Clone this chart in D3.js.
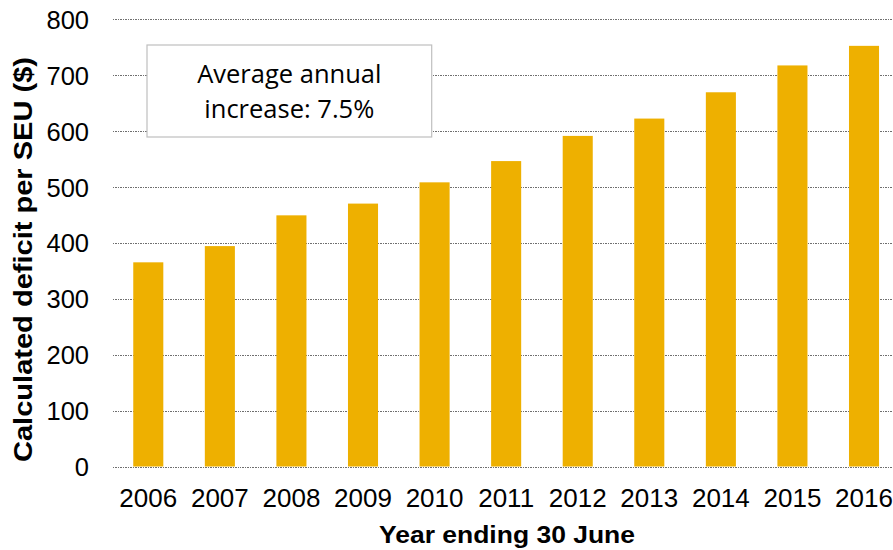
<!DOCTYPE html>
<html>
<head>
<meta charset="utf-8">
<script src="https://cdn.jsdelivr.net/npm/d3@7"></script>
<style>
  body { margin: 0; background: #fff; }
  svg { display: block; font-family: "Liberation Sans", Arial, sans-serif; }
</style>
</head>
<body>
<div id="output"></div>
<script>
var years = ['2006', '2007', '2008', '2009', '2010', '2011', '2012', '2013', '2014', '2015', '2016'];
var deficit = [365, 394, 449, 470, 508, 546, 591, 622, 669, 717, 752];
var yTicks = [0, 100, 200, 300, 400, 500, 600, 700, 800];
var noteLines = ['Average annual', 'increase: 7.5%'];

var w = 893;
var h = 550;
var plotLeft = 112.5, plotRight = 899.8, plotTop = 19, plotBottom = 466.5;

var svg = d3.select('#output').append('svg')
            .attr('width', w)
            .attr('height', h);

var x = d3.scaleBand()
          .domain(years)
          .range([plotLeft, plotRight])
          .paddingInner(0.58)
          .paddingOuter(0.29);

var y = d3.scaleLinear()
          .domain([0, 800])
          .range([plotBottom, plotTop]);

// dotted gridlines
var grid = svg.append('g')
  .attr('transform', 'translate(' + plotLeft + ',0)')
  .call(d3.axisLeft(y).tickValues(yTicks).tickSize(-(plotRight - plotLeft)).tickFormat(''));
grid.select('.domain').remove();
grid.selectAll('line')
  .attr('stroke', '#6f6f6f')
  .attr('stroke-width', 1)
  .attr('stroke-dasharray', '1.5,1')
  .attr('shape-rendering', 'crispEdges');

// y tick labels
var yAxis = svg.append('g')
  .attr('transform', 'translate(89,0)')
  .call(d3.axisLeft(y).tickValues(yTicks).tickSize(0).tickPadding(0));
yAxis.select('.domain').remove();
yAxis.selectAll('text')
  .attr('font-family', '"Liberation Sans", Arial, sans-serif')
  .attr('font-size', 25.5)
  .attr('fill', '#000')
  .attr('dy', '0.36em');

// bars
svg.selectAll('rect.bar')
  .data(deficit)
  .enter()
  .append('rect')
  .attr('class', 'bar')
  .attr('x', function (d, i) { return x(years[i]); })
  .attr('y', function (d) { return y(d); })
  .attr('width', x.bandwidth())
  .attr('height', function (d) { return plotBottom - y(d); })
  .attr('fill', '#EEB000');

// x tick labels
var xAxis = svg.append('g')
  .attr('transform', 'translate(0,' + plotBottom + ')')
  .call(d3.axisBottom(x).tickSize(0));
xAxis.select('.domain').remove();
xAxis.selectAll('text')
  .attr('font-family', '"Liberation Sans", Arial, sans-serif')
  .attr('font-size', 26)
  .attr('fill', '#000')
  .attr('dy', null)
  .attr('y', 40.2);

// axis titles
svg.append('text')
  .text('Year ending 30 June')
  .attr('x', 507)
  .attr('y', 543.3)
  .attr('text-anchor', 'middle')
  .attr('font-weight', 'bold')
  .attr('font-size', 24)
  .attr('textLength', 256)
  .attr('lengthAdjust', 'spacingAndGlyphs')
  .attr('fill', '#000');

svg.append('text')
  .text('Calculated deficit per SEU ($)')
  .attr('transform', 'translate(31.5,259.5) rotate(-90)')
  .attr('text-anchor', 'middle')
  .attr('font-weight', 'bold')
  .attr('font-size', 26)
  .attr('textLength', 405)
  .attr('lengthAdjust', 'spacingAndGlyphs')
  .attr('fill', '#000');

// annotation box
var note = svg.append('g');
note.append('rect')
  .attr('x', 147)
  .attr('y', 45)
  .attr('width', 284.7)
  .attr('height', 92)
  .attr('fill', '#fff')
  .attr('stroke', '#bfbfbf')
  .attr('stroke-width', 1.2);
note.selectAll('text')
  .data(noteLines)
  .enter()
  .append('text')
  .text(function (d) { return d; })
  .attr('x', 289.3)
  .attr('y', function (d, i) { return 83.3 + i * 35; })
  .attr('text-anchor', 'middle')
  .attr('font-family', '"Open Sans", "Noto Sans", sans-serif')
  .attr('font-size', 25.5)
  .attr('fill', '#000');
</script>
</body>
</html>
